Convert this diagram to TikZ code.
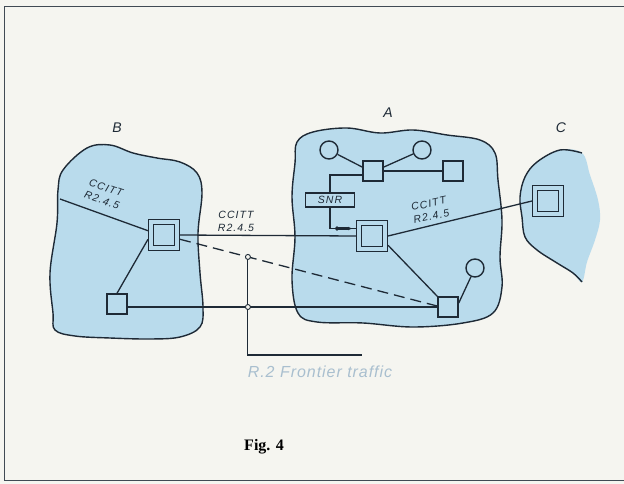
\documentclass[tikz,border=0pt]{standalone}
\usepackage{fontspec}
\setmainfont{Liberation Serif}
\newfontfamily\drawfont[LetterSpace=10]{Liberation Sans}
\newfontfamily\notefont[LetterSpace=6]{Liberation Sans}
\usepackage{xcolor}
\usetikzlibrary{arrows.meta,positioning}
\definecolor{zone}{HTML}{B9DBEC}
\definecolor{ink}{HTML}{1E2A36}
\definecolor{paper}{HTML}{F5F5F0}
\definecolor{faint}{HTML}{A9BFCF}

\begin{document}
\begin{tikzpicture}[x=1pt, y=-1pt, line width=1.4pt, color=ink,
  sq/.style={draw=ink, fill=zone, minimum size=20pt, inner sep=0pt},
  exch/.style={draw=ink, fill=zone, double=zone, line width=1.4pt, double distance=3.2pt, minimum size=26pt, inner sep=0pt, outer sep=3pt},
  term/.style={circle, draw=ink, fill=zone, minimum size=18pt, inner sep=0pt},
  lab/.style={font=\drawfont\itshape\fontsize{10.5}{13}\selectfont, align=center, text=ink, inner sep=0pt},
  zonelab/.style={font=\drawfont\itshape\fontsize{14}{14}\selectfont, text=ink},
  junc/.style={circle, draw=ink, fill=paper, line width=0.9pt, minimum size=5pt, inner sep=0pt},
  link/.style={draw=ink, line width=1.3pt}
]
\useasboundingbox (0,0) rectangle (624,484);
\fill[paper] (0,0) rectangle (624,484);
\draw[ink!85, line width=1pt] (624,7) -- (4,7) -- (4,480) -- (624,480);

% zones
\filldraw[fill=zone, draw=ink] plot[smooth cycle, tension=0.6] coordinates {(63,170) (87,148) (110,145) (133,153) (157,158) (180,162) (197,173) (202,193) (198,233) (200,273) (203,307) (200,327) (180,337) (150,339) (110,338) (75,336) (55,330) (53,313) (50,273) (57,223) (58,190)};
\filldraw[fill=zone, draw=ink] plot[smooth cycle, tension=0.6] coordinates {(295,163) (297,142) (313,132) (347,128) (380,133) (413,130) (447,135) (480,140) (495,153) (498,180) (502,220) (500,257) (502,287) (493,313) (463,323) (413,327) (363,323) (317,322) (298,313) (292,280) (295,237) (292,197)};
\fill[zone] plot[smooth cycle, tension=0.6] coordinates {(582,153) (560,150) (537,162) (525,177) (520,197) (522,217) (525,237) (537,250) (557,263) (573,273) (582,282) (587,262) (595,240) (600,220) (598,200) (590,175)};
\draw[ink] plot[smooth, tension=0.6] coordinates {(582,153) (560,150) (537,162) (525,177) (520,197) (522,217) (525,237) (537,250) (557,263) (573,273) (582,282)};

\node[zonelab] (labB) at (117,128) {B};
\node[zonelab] (labA) at (388,113) {A};
\node[zonelab] (labC) at (561,128) {C};

% exchanges and terminals
\node[exch] (xB) at (164,235) {};
\node[sq] (sB) at (117,304) {};
\node[exch] (xA) at (372,236) {};
\node[exch] (xC) at (548,201) {};
\node[sq] (sA1) at (373,171) {};
\node[sq] (sA2) at (453,171) {};
\node[sq] (sA3) at (448,307) {};
\node[term] (cA1) at (329,150) {};
\node[term] (cA2) at (422,150) {};
\node[term] (cA3) at (475,268) {};
\node[draw=ink, fill=zone, minimum width=49pt, minimum height=14pt, lab] (snr) at (330,200) {SNR};
\coordinate (bEdge) at (60,199);
\coordinate (rEnd) at (362,355);

% links
\draw[link] (bEdge) -- (xB.165);
\draw[link] (xB.195) -- (sB.north);
\draw[link] (xB.east) -- (xA.west);
\draw[link] (sB.east |- sA3.west) -- (sA3.west);
\draw[link, dash pattern=on 11pt off 6pt] (xB.-15) -- (sA3.175) coordinate[pos=0.264] (j1);
\coordinate (j2) at (j1 |- sA3.west);
\draw[link] (xA.east) -- (xC.west);
\draw[link] (xA.-30) -- (sA3.north west);
\draw[link] (cA3) -- (sA3.20);
\draw[link] (cA1) -- (sA1.160);
\draw[link] (cA2) -- (sA1.20);
\draw[link] (sA1.east) -- (sA2.west);
\draw[link] (sA1.200) -| (snr.north);
\draw[link] (snr.south) |- (xA.155);
\draw[line width=2.2pt, {Circle[length=4pt]}-{Latex[length=5pt]}] ([xshift=-21pt]xA.155) -- ([xshift=-3pt]xA.155);
\draw[link, line width=1.1pt] (j1) -- (j1 |- rEnd) -- (rEnd);
\node[junc] (jn1) at (j1) {};
\node[junc] (jn2) at (j2) {};

% labels
\node[lab, rotate=-19] (ccB) at (104,194) {CCITT\\R2.4.5};
\node[lab] (ccM) at (236,221) {CCITT\\R2.4.5};
\node[lab, rotate=12] (ccA) at (430,210) {CCITT\\R2.4.5};
\node[font=\notefont\itshape\fontsize{16}{16}\selectfont, text=faint] (r2) at (320,372) {R.2 Frontier traffic};
\node[font=\bfseries\fontsize{16}{16}\selectfont, text=black] (fig) at (264,447) {Fig. 4};
\end{tikzpicture}
\end{document}
